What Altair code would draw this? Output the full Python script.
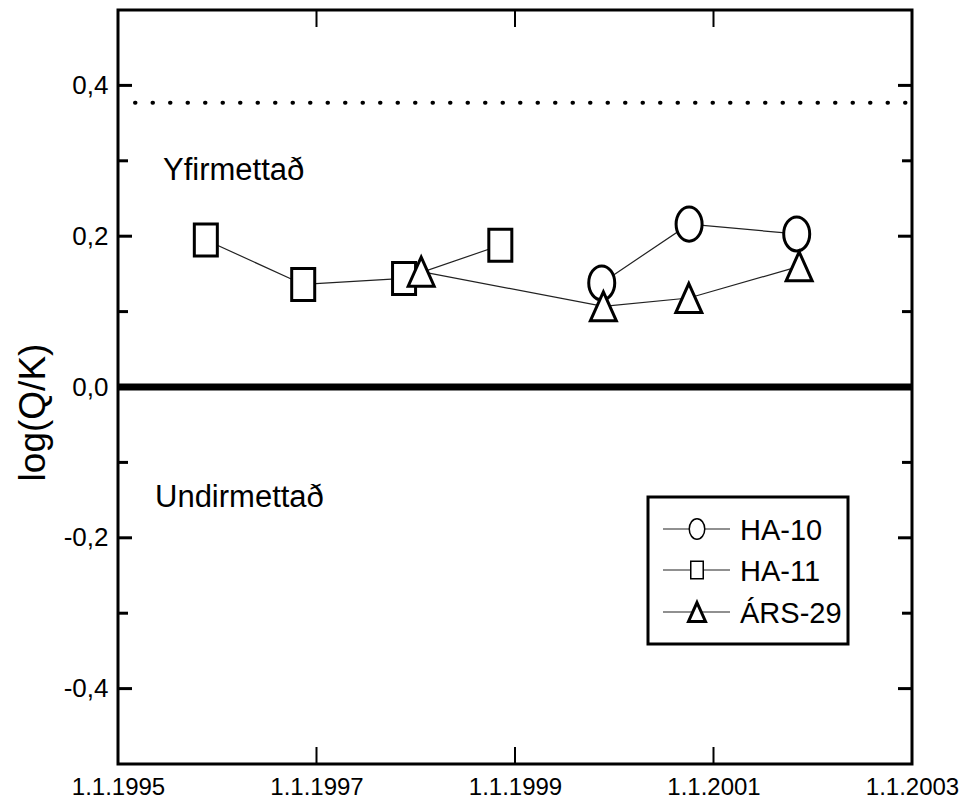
import altair as alt
import pandas as pd

# ---------------- data ----------------
series_names = ["HA-10", "HA-11", "ÁRS-29"]

ha10_dates = ["1999-11-16", "2000-10-03", "2001-11-03"]
ha10_values = [0.138, 0.216, 0.203]

ha11_dates = ["1995-11-20", "1996-11-13", "1997-11-19", "1998-11-08"]
ha11_values = [0.195, 0.136, 0.144, 0.188]

ars29_dates = ["1998-01-21", "1999-11-22", "2000-10-02", "2001-11-12"]
ars29_values = [0.153, 0.107, 0.118, 0.160]

x_tick_years = [1995, 1997, 1999, 2001, 2003]
x_inner_ticks = [1997, 1999, 2001]
y_major = [-0.4, -0.2, 0.0, 0.2, 0.4]
y_minor = [-0.3, -0.1, 0.1, 0.3]
saturation_level = 0.377
label_over = "Yfirmettað"
label_under = "Undirmettað"
y_title = "log(Q/K)"

FONT = "Liberation Sans, Arial, sans-serif"
W, H = 794, 754

# marker shapes (styles)
circle_path = ("M0,-1.31C0.5523,-1.31 1,-0.7235 1,0C1,0.7235 0.5523,1.31 0,1.31"
               "C-0.5523,1.31 -1,0.7235 -1,0C-1,-0.7235 -0.5523,-1.31 0,-1.31Z")
square_path = "M-0.885,-1.23H0.885V1.23H-0.885Z"
triangle_path = "M0,-1.115L1,1.115L-1,1.115Z"
shape_range = [circle_path, square_path, triangle_path]


def dec_year(d):
    t = pd.Timestamp(d)
    n = 366 if t.is_leap_year else 365
    return t.year + (t.dayofyear - 1) / n


rows = []
for name, dates, vals in [("HA-11", ha11_dates, ha11_values),
                          ("HA-10", ha10_dates, ha10_values),
                          ("ÁRS-29", ars29_dates, ars29_values)]:
    for d, v in zip(dates, vals):
        rows.append({"series": name, "year": dec_year(d), "value": v})
df = pd.DataFrame(rows)

xscale = alt.Scale(domain=[1995, 2003], nice=False, zero=False)
yscale = alt.Scale(domain=[-0.5, 0.5], nice=False, zero=False)

x_axis = alt.Axis(values=x_tick_years, labelExpr="'1.1.' + datum.value",
                  ticks=False, tickSize=0, domain=False, grid=False,
                  labelFont=FONT, labelFontSize=24, labelColor="black",
                  labelPadding=11, labelFlush=False, labelOverlap=False, title=None)
y_axis = alt.Axis(values=y_major,
                  labelExpr="replace(replace(format(datum.value, '.1f'), '.', ','), '\u2212', '-')",
                  ticks=False, tickSize=0, domain=False, grid=False,
                  labelFont=FONT, labelFontSize=26, labelColor="black",
                  labelPadding=10, labelFlush=False, labelOverlap=False,
                  title=y_title, titleFont=FONT, titleFontSize=37, titleColor="black",
                  titleFontWeight="normal", titleAngle=270, titleAlign="center",
                  titleBaseline="middle", titleX=-85, titleY=402)

X = lambda f: alt.X(f, scale=xscale, axis=x_axis)
Y = lambda f: alt.Y(f, scale=yscale, axis=y_axis)

base = alt.Chart(df)

lines = base.mark_line(color="#222222", strokeWidth=1.2).encode(
    x=X("year:Q"), y=Y("value:Q"), detail="series:N",
)

points = base.mark_point(fill="white", stroke="black", strokeWidth=3,
                         size=676, opacity=1, fillOpacity=1).encode(
    x=X("year:Q"), y=Y("value:Q"),
    shape=alt.Shape("series:N", scale=alt.Scale(domain=series_names, range=shape_range),
                    legend=None),
)

zero_line = alt.Chart(pd.DataFrame({"value": [0.0]})).mark_rule(
    color="black", strokeWidth=7).encode(y=Y("value:Q"))

sat_line = alt.Chart(pd.DataFrame({"value": [saturation_level]})).mark_rule(
    color="black", strokeWidth=4, strokeDash=[0.5, 17], strokeCap="round").encode(
    y=Y("value:Q"), x=alt.value(17), x2=alt.value(W))

ymaj = pd.DataFrame({"value": y_major})
ymin = pd.DataFrame({"value": y_minor})
xin = pd.DataFrame({"year": x_inner_ticks})


def yticks(data, x1, x2):
    return alt.Chart(data).mark_rule(color="black", strokeWidth=3).encode(
        y=Y("value:Q"), x=alt.value(x1), x2=alt.value(x2))


def xticks(data, y1, y2):
    return alt.Chart(data).mark_rule(color="black", strokeWidth=2).encode(
        x=X("year:Q"), y=alt.value(y1), y2=alt.value(y2))


ticks = [yticks(ymaj, 0, 14), yticks(ymin, 0, 10),
         yticks(ymaj, W - 14, W), yticks(ymin, W - 10, W),
         xticks(xin, H - 17, H), xticks(xin, 0, 17)]

ann = []
for txt, px, py in [(label_over, 45, 170), (label_under, 37, 497)]:
    ann.append(alt.Chart(pd.DataFrame({"t": [txt]})).mark_text(
        font=FONT, fontSize=31, align="left", baseline="alphabetic", color="black").encode(
        text="t:N", x=alt.value(px), y=alt.value(py)))

# legend box
legend_layers = [alt.Chart(pd.DataFrame({"a": [0]})).mark_rect(
    fill="white", stroke="black", strokeWidth=3).encode(
    x=alt.value(530), x2=alt.value(730), y=alt.value(487), y2=alt.value(634))]
leg_sizes = [240, 199, 289]
leg_strokes = [1.5, 1.5, 3]
leg_y = [519, 560, 602]
for i, name in enumerate(series_names):
    d = alt.Data(values=[{"name": name}])
    yy = leg_y[i]
    legend_layers.append(alt.Chart(d).mark_rule(color="#222222", strokeWidth=1.2).encode(
        x=alt.value(545), x2=alt.value(612), y=alt.value(yy)))
    legend_layers.append(alt.Chart(d).mark_point(
        fill="white", stroke="black", strokeWidth=leg_strokes[i], opacity=1,
        fillOpacity=1, shape=shape_range[i], size=leg_sizes[i]).encode(
        x=alt.value(579), y=alt.value(yy)))
    legend_layers.append(alt.Chart(d).mark_text(
        font=FONT, fontSize=29, align="left", baseline="alphabetic", color="black").encode(
        text="name:N", x=alt.value(622), y=alt.value(yy + 11)))

chart = alt.layer(lines, zero_line, sat_line, *ticks, points, *ann, *legend_layers).properties(
    width=W, height=H,
    background="white",
    autosize=alt.AutoSizeParams(type="none"),
    padding={"left": 110, "top": 2, "right": 48, "bottom": 35},
).configure_view(stroke="black", strokeWidth=3)

chart.save("out.html", embed_options={"renderer": "svg", "actions": False})
